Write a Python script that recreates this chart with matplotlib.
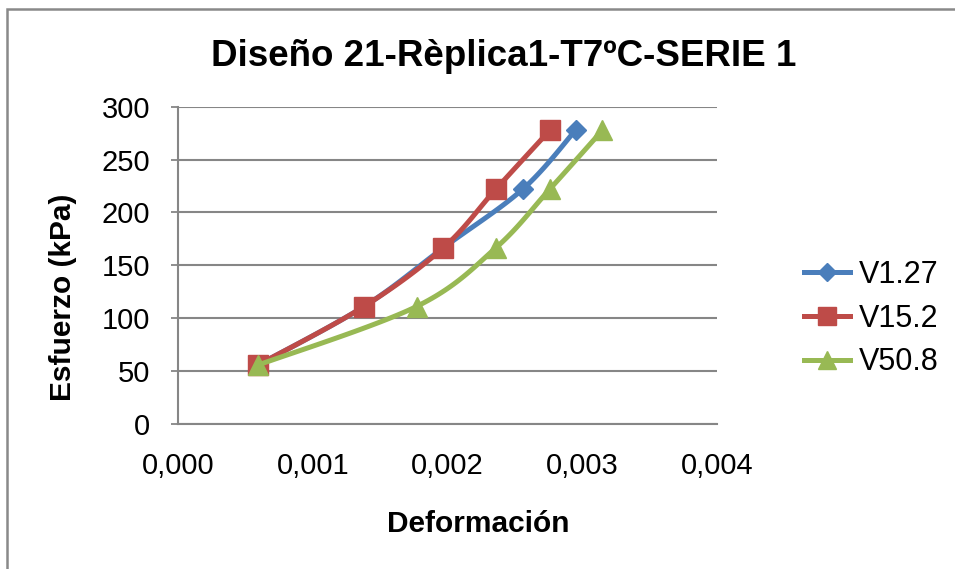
import numpy as np
import matplotlib.pyplot as plt
from matplotlib.patches import Rectangle

plt.rcParams['font.family'] = ['Liberation Sans', 'DejaVu Sans']

# strain (Deformación) and stress (Esfuerzo, kPa) for each velocity
stress = [55.6, 111.1, 166.7, 222.2, 277.8]
strain_v127 = [0.00059, 0.00138, 0.00197, 0.00256, 0.00295]
strain_v152 = [0.00059, 0.00138, 0.00197, 0.00236, 0.00276]
strain_v508 = [0.00059, 0.00177, 0.00236, 0.00276, 0.00315]

labels = ['V1.27', 'V15.2', 'V50.8']
colors = ['#4A7EBB', '#BE4B48', '#98B954']
markers = ['D', 's', '^']
msizes = [10, 14.4, 14.8]

x_ticks = [0, 0.001, 0.002, 0.003, 0.004]
x_ticklabels = ['0,000', '0,001', '0,002', '0,003', '0,004']
y_ticks = [0, 50, 100, 150, 200, 250, 300]


def smooth(x, y, n=30):
    # spreadsheet-style smoothed line: cubic Bezier through each point pair
    p = np.column_stack([x, y]).astype(float)
    pts = [p[0]]
    t = np.linspace(0, 1, n)[1:, None]
    for i in range(len(p) - 1):
        p0 = p[i - 1] if i > 0 else p[i]
        p1, p2 = p[i], p[i + 1]
        p3 = p[i + 2] if i + 2 < len(p) else p[i + 1]
        c1 = p1 + (p2 - p0) / 6
        c2 = p2 - (p3 - p1) / 6
        seg = ((1 - t) ** 3) * p1 + 3 * ((1 - t) ** 2) * t * c1 \
            + 3 * (1 - t) * t ** 2 * c2 + t ** 3 * p2
        pts.extend(seg)
    pts = np.array(pts)
    return pts[:, 0], pts[:, 1]


fig = plt.figure(figsize=(9.55, 5.69), dpi=100)
ax = fig.add_axes([0.1864, 0.2548, 0.5644, 0.5577])

series = [strain_v127, strain_v152, strain_v508]
for i, (xs, lab, c, m, ms) in enumerate(zip(series, labels, colors,
                                            markers, msizes)):
    sx, sy = smooth(xs, stress)
    ax.plot(sx, sy, color=c, lw=3.6, solid_capstyle='round', zorder=3 + 2 * i)
    ax.plot(xs, stress, linestyle='none', marker=m, markersize=ms,
            color=c, zorder=4 + 2 * i)
    ax.plot([], [], color=c, lw=3.6, marker=m, markersize=ms * 0.9,
            label=lab)

ax.set_xlim(0, 0.004)
ax.set_ylim(0, 300)
ax.set_xticks(x_ticks)
ax.set_xticklabels(x_ticklabels)
ax.set_yticks(y_ticks)
ax.tick_params(axis='x', length=0, pad=20, labelsize=21)
ax.tick_params(axis='y', length=5, width=1.3, color='#868686', pad=15,
               labelsize=21)
ax.grid(axis='y', color='#868686', lw=1.5)
ax.set_axisbelow(True)
for side in ['top', 'right']:
    ax.spines[side].set_visible(False)
for side in ['left', 'bottom']:
    ax.spines[side].set_color('#868686')
    ax.spines[side].set_linewidth(1.5)

fig.text(0.527, 0.90, 'Diseño 21-Rèplica1-T7ºC-SERIE 1', ha='center',
         va='center', fontsize=26.5, fontweight='bold')
fig.text(0.5005, 0.079, 'Deformación', ha='center', va='center',
         fontsize=21.5, fontweight='bold')
fig.text(0.066, 0.478, 'Esfuerzo (kPa)', ha='center', va='center',
         rotation=90, fontsize=21.5, fontweight='bold')

fig.legend(loc='center left', bbox_to_anchor=(0.826, 0.44), frameon=False,
           fontsize=22, handlelength=1.5, handletextpad=0.3,
           labelspacing=0.45, borderpad=0)

# chart frame, only its top and left edges fall inside the image
fig.patches.append(Rectangle((7 / 955, -0.5), 2, 0.5 + 1 - 9 / 569,
                             transform=fig.transFigure, fill=False,
                             edgecolor='#898989', lw=1.8))

fig.savefig('out.png', dpi=100)
